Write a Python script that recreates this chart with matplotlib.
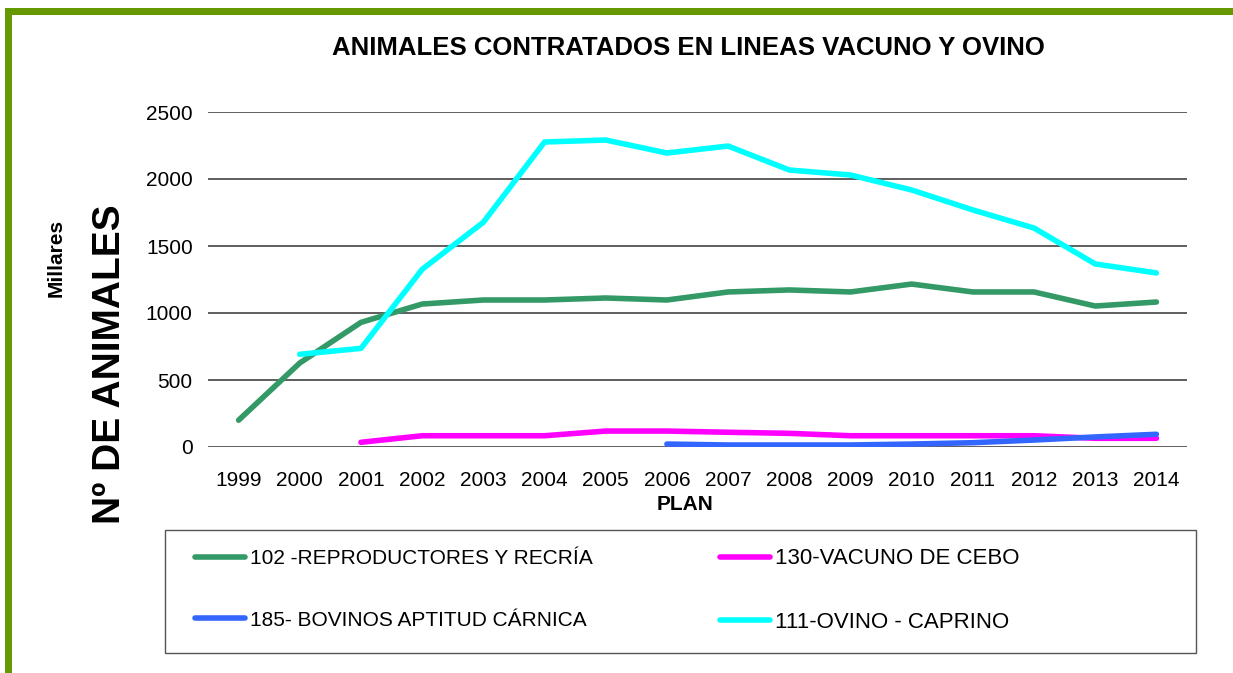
import matplotlib.pyplot as plt
from matplotlib.patches import Rectangle
import numpy as np

plt.rcParams['font.family'] = ['Liberation Sans', 'DejaVu Sans']

years = ['1999', '2000', '2001', '2002', '2003', '2004', '2005', '2006',
         '2007', '2008', '2009', '2010', '2011', '2012', '2013', '2014']

reproductores = [200, 627, 930, 1067, 1097, 1097, 1112, 1097,
                 1157, 1172, 1157, 1216, 1157, 1157, 1052, 1082]
vacuno_cebo = [None, None, 35, 84, 84, 84, 119, 119,
               110, 102, 84, 84, 84, 84, 65, 65]
bovinos = [None, None, None, None, None, None, None, 22,
           15, 15, 15, 22, 32, 52, 75, 95]
ovino = [None, 692, 736, 1326, 1677, 2276, 2291, 2194,
         2246, 2067, 2030, 1918, 1769, 1634, 1366, 1299]

series = [
    ('102 -REPRODUCTORES Y RECRÍA', reproductores, '#339966'),
    ('130-VACUNO DE CEBO', vacuno_cebo, '#FF00FF'),
    ('185- BOVINOS APTITUD CÁRNICA', bovinos, '#3366FF'),
    ('111-OVINO - CAPRINO', ovino, '#00FFFF'),
]


def main():
    W, H = 1233, 673
    fig = plt.figure(figsize=(W / 100, H / 100), dpi=100)
    ax = fig.add_axes([208 / W, 1 - 447 / H, (1187 - 208) / W, (447 - 112) / H])

    x = np.arange(len(years))
    lines = []
    for label, vals, color in series:
        y = np.array([np.nan if v is None else v for v in vals], dtype=float)
        ln, = ax.plot(x, y, color=color, lw=4, solid_capstyle='round',
                      solid_joinstyle='round', label=label)
        lines.append(ln)

    ax.set_xlim(-0.5, len(years) - 0.5)
    ax.set_ylim(0, 2500)
    ax.set_yticks(np.arange(0, 2501, 500))
    ax.set_xticks(x)
    ax.set_xticklabels(years)
    ax.yaxis.grid(True, color='#333333', lw=1.1)
    ax.set_axisbelow(True)
    for s in ax.spines.values():
        s.set_visible(False)
    ax.tick_params(axis='both', length=0, labelsize=15)
    ax.tick_params(axis='y', pad=11)
    ax.tick_params(axis='x', pad=17)

    fig.text(688 / W, 1 - 48 / H, 'ANIMALES CONTRATADOS EN LINEAS VACUNO Y OVINO',
             ha='center', va='center', fontsize=18.5, fontweight='bold')
    fig.text(685 / W, 1 - 504 / H, 'PLAN', ha='center', va='center',
             fontsize=15, fontweight='bold')
    fig.text(56 / W, 1 - 258 / H, 'Millares', ha='center', va='center',
             rotation=90, fontsize=15, fontweight='bold')
    fig.text(110 / W, 1 - 364 / H, 'Nº DE ANIMALES', ha='center', va='center',
             rotation=90, fontsize=28, fontweight='bold')

    # column-wise fill: 102 / 185 in column 1, 130 / 111 in column 2
    order = [0, 2, 1, 3]
    leg = fig.legend([lines[i] for i in order], [series[i][0] for i in order],
                     loc='upper left', ncol=2, bbox_to_anchor=(195 / W, 1 - 548 / H),
                     fontsize=15, frameon=False, borderpad=0, borderaxespad=0,
                     labelspacing=2.05, handlelength=2.4, handletextpad=0.24,
                     columnspacing=6.1)
    for t in leg.get_texts()[2:]:
        t.set_fontsize(16)
    # legend box
    fig.add_artist(Rectangle((165 / W, 1 - 653 / H), (1196 - 165) / W, (653 - 530) / H,
                             transform=fig.transFigure, fill=False,
                             edgecolor='#555555', lw=1.0))

    # green frame on top and left
    fig.add_artist(Rectangle((5 / W, 1 - 15 / H), 1, 7 / H, transform=fig.transFigure,
                             color='#669900', lw=0))
    fig.add_artist(Rectangle((5 / W, 0), 7 / W, 1 - 8 / H, transform=fig.transFigure,
                             color='#669900', lw=0))

    fig.savefig('out.png', dpi=100)


if __name__ == "__main__":
    main()
